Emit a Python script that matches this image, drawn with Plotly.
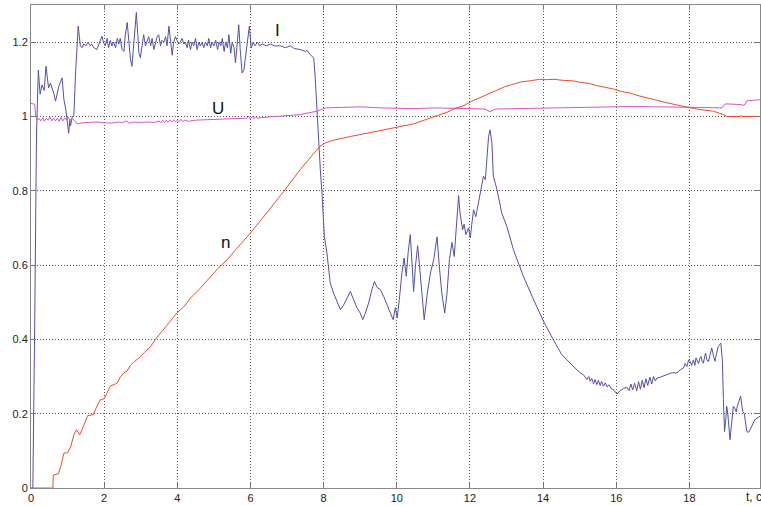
import plotly.graph_objects as go

# ---- I (current), blue ----
I_t = [0, 0.05, 0.10, 0.15, 0.20, 0.25, 0.30, 0.36, 0.41, 0.45, 0.48, 0.53, 0.58, 0.63, 0.67, 0.72, 0.76,
       0.85, 0.90, 0.95, 0.99, 1.03, 1.06, 1.08, 1.13, 1.17, 1.22, 1.29, 1.35, 1.40, 1.44, 1.50, 1.56, 1.62,
       1.66, 1.72, 1.80, 1.86, 1.94, 1.98, 2.03, 2.08, 2.12, 2.17, 2.21, 2.26, 2.31, 2.36, 2.40, 2.44, 2.49,
       2.54, 2.58, 2.63, 2.68, 2.72, 2.76, 2.81, 2.85, 2.88, 2.92, 2.95, 2.99, 3.04, 3.08, 3.13, 3.17, 3.22,
       3.27, 3.31, 3.36, 3.40, 3.45, 3.49, 3.54, 3.58, 3.63, 3.68, 3.72, 3.77, 3.81, 3.86, 3.90, 3.95, 3.99,
       4.04, 4.08, 4.13, 4.18, 4.22, 4.27, 4.31, 4.36, 4.40, 4.45, 4.50, 4.54, 4.59, 4.63, 4.68, 4.72, 4.77,
       4.82, 4.86, 4.91, 4.95, 5.00, 5.05, 5.10, 5.14, 5.19, 5.23, 5.28, 5.32, 5.37, 5.41, 5.46, 5.50, 5.55,
       5.59, 5.64, 5.68, 5.72, 5.77, 5.82, 5.86, 5.92, 5.97, 6.02, 6.07, 6.12, 6.19, 6.25, 6.32, 6.43, 6.55,
       6.65, 6.75, 6.82, 6.95, 7.09, 7.20, 7.36, 7.50, 7.55, 7.62, 7.68, 7.73, 7.77, 7.82, 7.86, 7.91, 7.96,
       7.98, 8.02, 8.09, 8.18, 8.27, 8.37, 8.46, 8.55, 8.64, 8.73, 8.82, 8.91, 9.00, 9.07, 9.14, 9.23, 9.32,
       9.39, 9.46, 9.55, 9.64, 9.73, 9.82, 9.90, 9.96, 10.01, 10.07, 10.14, 10.20, 10.26, 10.31, 10.37, 10.42,
       10.46, 10.51, 10.57, 10.62, 10.69, 10.75, 10.83, 10.92, 11.01, 11.10, 11.16, 11.23, 11.31, 11.37,
       11.44, 11.51, 11.57, 11.63, 11.69, 11.73, 11.80, 11.84, 11.89, 11.96, 12.01, 12.05, 12.10, 12.16,
       12.23, 12.30, 12.37, 12.42, 12.46, 12.51, 12.55, 12.60, 12.64, 12.74, 12.87, 13.01, 13.19, 13.46,
       13.74, 14.01, 14.28, 14.51, 14.74, 15.01, 15.10, 15.20, 15.25, 15.29, 15.33, 15.38, 15.42, 15.47,
       15.51, 15.56, 15.60, 15.65, 15.70, 15.75, 15.80, 15.86, 15.92, 16.02, 16.11, 16.20, 16.29, 16.35,
       16.40, 16.45, 16.50, 16.56, 16.61, 16.66, 16.71, 16.76, 16.81, 16.86, 16.92, 16.97, 17.02, 17.07,
       17.11, 17.20, 17.38, 17.52, 17.66, 17.75, 17.84, 17.88, 17.93, 17.98, 18.02, 18.06, 18.11, 18.15,
       18.18, 18.22, 18.25, 18.29, 18.32, 18.35, 18.38, 18.44, 18.48, 18.52, 18.57, 18.61, 18.66, 18.70,
       18.75, 18.79, 18.86, 18.90, 18.93, 18.96, 19.00, 19.02, 19.05, 19.07, 19.09, 19.11, 19.16, 19.20,
       19.24, 19.28, 19.31, 19.34, 19.37, 19.40, 19.43, 19.46, 19.50, 19.57, 19.62, 19.66, 19.79, 19.93]
I_v = [0, 0, 0.43, 0.95, 1.125, 1.06, 1.085, 1.07, 1.135, 1.10, 1.077, 1.09, 1.075, 1.06, 1.041, 1.06, 1.081,
       1.104, 1.045, 1.02, 0.991, 0.955, 0.99, 0.975, 1.0, 1.0, 1.12, 1.243, 1.19, 1.185, 1.195, 1.19, 1.2, 1.19,
       1.195, 1.185, 1.18, 1.195, 1.216, 1.2, 1.19, 1.21, 1.185, 1.205, 1.19, 1.2, 1.185, 1.21, 1.195, 1.21, 1.18,
       1.175, 1.22, 1.253, 1.2, 1.153, 1.135, 1.2, 1.25, 1.28, 1.22, 1.17, 1.158, 1.2, 1.22, 1.19, 1.2, 1.215,
       1.19, 1.21, 1.18, 1.2, 1.215, 1.22, 1.19, 1.205, 1.2, 1.215, 1.19, 1.243, 1.2, 1.165, 1.2, 1.215, 1.205,
       1.195, 1.2, 1.21, 1.195, 1.2, 1.185, 1.205, 1.18, 1.2, 1.19, 1.21, 1.18, 1.2, 1.19, 1.2, 1.185, 1.2,
       1.19, 1.21, 1.185, 1.2, 1.19, 1.205, 1.18, 1.2, 1.19, 1.21, 1.175, 1.2, 1.185, 1.22, 1.17, 1.2, 1.185,
       1.144, 1.2, 1.247, 1.18, 1.117, 1.125, 1.16, 1.21, 1.243, 1.184, 1.2, 1.19, 1.2, 1.19, 1.195, 1.19, 1.195,
       1.19, 1.19, 1.19, 1.185, 1.19, 1.183, 1.18, 1.175, 1.178, 1.168, 1.162, 1.157, 1.104, 1.005, 0.951, 0.857, 0.785,
       0.731, 0.677, 0.633, 0.552, 0.525, 0.502, 0.48, 0.493, 0.51, 0.529, 0.507, 0.485, 0.471, 0.453, 0.47, 0.498, 0.534,
       0.556, 0.54, 0.534, 0.516, 0.493, 0.471, 0.453, 0.485, 0.458, 0.507, 0.579, 0.619, 0.57, 0.633, 0.682, 0.6,
       0.529, 0.597, 0.652, 0.6, 0.507, 0.453, 0.52, 0.579, 0.615, 0.676, 0.6, 0.525, 0.471, 0.52,
       0.615, 0.661, 0.623, 0.704, 0.787, 0.74, 0.695, 0.71, 0.682, 0.7, 0.673, 0.71, 0.749, 0.73,
       0.767, 0.803, 0.839, 0.83, 0.884, 0.946, 0.964, 0.929, 0.839, 0.803, 0.74, 0.704, 0.641, 0.57,
       0.507, 0.449, 0.399, 0.359, 0.336, 0.31, 0.305, 0.292, 0.3, 0.287, 0.295, 0.28, 0.292, 0.278,
       0.29, 0.276, 0.287, 0.274, 0.283, 0.272, 0.278, 0.268, 0.265, 0.253, 0.262, 0.268, 0.271, 0.262,
       0.28, 0.264, 0.282, 0.262, 0.286, 0.266, 0.29, 0.27, 0.294, 0.276, 0.298, 0.28, 0.3, 0.288,
       0.296, 0.298, 0.305, 0.31, 0.31, 0.318, 0.323, 0.335, 0.327, 0.345, 0.34, 0.33, 0.345, 0.33,
       0.35, 0.34, 0.335, 0.35, 0.354, 0.34, 0.336, 0.363, 0.345, 0.34, 0.36, 0.377, 0.355, 0.341,
       0.365, 0.381, 0.39, 0.345, 0.238, 0.152, 0.19, 0.22, 0.2, 0.175, 0.15, 0.13, 0.18, 0.22,
       0.215, 0.205, 0.22, 0.229, 0.235, 0.247, 0.225, 0.206, 0.2, 0.152, 0.15, 0.157, 0.184, 0.193]

# ---- U (voltage), magenta ----
U_t = [0, 0.10, 0.13, 0.18, 0.22, 0.27, 0.32, 0.36, 0.42, 0.47, 0.52, 0.57, 0.62, 0.67, 0.72, 0.77, 0.82,
       0.87, 0.92, 0.97, 1.02, 1.07, 1.12, 1.18, 1.26, 1.4, 1.6, 1.8, 2.0, 2.2, 2.4, 2.5, 2.6, 2.7, 2.8, 3.0,
       3.2, 3.4, 3.5, 3.55, 3.6, 3.65, 3.7, 3.75, 3.8, 3.85, 3.9, 3.95, 4.0, 4.05, 4.1, 4.15, 4.2, 4.3, 4.5,
       4.63, 5.0, 5.5, 5.9, 5.95, 6.0, 6.05, 6.1, 6.15, 6.2, 6.3, 6.6, 6.9, 7.36, 7.6, 7.82, 8.05, 8.5, 9.0,
       9.55, 10.0, 10.46, 11.0, 11.5, 12.0, 12.4, 12.55, 12.7, 13.2, 13.6, 14.1, 15.0, 15.92, 16.5, 17.0,
       17.5, 18.0, 18.5, 18.89, 18.98, 19.39, 19.5, 19.57, 19.93]
U_v = [1.035, 1.033, 1.0, 0.99, 0.995, 0.988, 0.997, 0.987, 0.995, 0.99, 0.998, 0.988, 0.996, 0.988, 0.995,
       0.987, 0.997, 0.988, 0.996, 0.99, 0.998, 0.99, 0.995, 0.99, 0.98, 0.983, 0.984, 0.985, 0.983, 0.982,
       0.985, 0.983, 0.988, 0.982, 0.985, 0.984, 0.985, 0.984, 0.988, 0.983, 0.99, 0.984, 0.99, 0.984, 0.991,
       0.985, 0.991, 0.985, 0.99, 0.986, 0.992, 0.986, 0.99, 0.987, 0.99, 0.991, 0.992, 0.994, 0.995, 1.0,
       0.993, 1.0, 0.994, 0.999, 0.995, 0.997, 0.999, 1.0, 1.005, 1.01, 1.014, 1.023, 1.024, 1.026, 1.023,
       1.022, 1.021, 1.023, 1.021, 1.021, 1.02, 1.013, 1.02, 1.021, 1.022, 1.024, 1.026, 1.027, 1.027, 1.026,
       1.026, 1.025, 1.024, 1.023, 1.034, 1.032, 1.03, 1.042, 1.045]

# ---- n (speed), red ----
n_t = [0, 0.6, 0.61, 0.75, 0.82, 0.9, 1.0, 1.08, 1.18, 1.25, 1.33, 1.4, 1.55, 1.7, 1.8, 1.9, 2.0, 2.1, 2.17,
       2.3, 2.36, 2.45, 2.54, 2.63, 2.72, 2.81, 2.99, 3.1, 3.27, 3.4, 3.54, 3.72, 3.99, 4.2, 4.36, 4.63, 4.99,
       5.1, 5.36, 5.59, 6.0, 6.45, 6.91, 7.36, 7.73, 7.9, 8.05, 8.27, 8.73, 9.19, 9.55, 10.0, 10.46, 10.92,
       11.37, 11.6, 11.83, 12.05, 12.28, 12.5, 12.74, 12.95, 13.19, 13.4, 13.65, 13.9, 14.1, 14.3, 14.56,
       14.8, 15.01, 15.25, 15.47, 15.7, 15.92, 16.15, 16.38, 16.6, 16.84, 17.05, 17.29, 17.5, 17.75, 18.2,
       18.66, 18.93, 19.02, 19.4, 19.42, 19.44, 19.93]
n_v = [0, 0, 0.035, 0.038, 0.06, 0.094, 0.095, 0.11, 0.145, 0.157, 0.143, 0.158, 0.195, 0.197, 0.22, 0.238,
       0.24, 0.26, 0.274, 0.28, 0.283, 0.3, 0.31, 0.315, 0.33, 0.339, 0.353, 0.365, 0.381, 0.4, 0.417, 0.44,
       0.471, 0.49, 0.511, 0.538, 0.577, 0.59, 0.614, 0.641, 0.686, 0.74, 0.798, 0.857, 0.902, 0.92, 0.929,
       0.936, 0.946, 0.955, 0.964, 0.972, 0.98, 0.996, 1.011, 1.022, 1.029, 1.041, 1.051, 1.062, 1.072, 1.08,
       1.087, 1.093, 1.096, 1.1, 1.099, 1.1, 1.097, 1.096, 1.092, 1.089, 1.083, 1.079, 1.074, 1.067, 1.063,
       1.056, 1.051, 1.045, 1.039, 1.034, 1.029, 1.02, 1.014, 1.005, 1.0, 1.0, 1.003, 1.0, 1.0]

x_ticks = [0, 2, 4, 6, 8, 10, 12, 14, 16, 18]
y_ticks = [0, 0.2, 0.4, 0.6, 0.8, 1.0, 1.2]
y_tick_text = ["0", "0.2", "0.4", "0.6", "0.8", "1", "1.2"]

fig = go.Figure()
fig.add_trace(go.Scatter(x=I_t, y=I_v, mode="lines", line=dict(color="#5050b4", width=1), name="I"))
fig.add_trace(go.Scatter(x=U_t, y=U_v, mode="lines", line=dict(color="#d455c8", width=1), name="U"))
fig.add_trace(go.Scatter(x=n_t, y=n_v, mode="lines", line=dict(color="#f04a28", width=1), name="n"))

lab_font = dict(family="Liberation Sans, Arial, sans-serif", size=17, color="#111")
fig.add_annotation(x=6.73, y=1.232, text="I", showarrow=False, font=lab_font, xref="x", yref="y")
fig.add_annotation(x=5.1, y=1.022, text="U", showarrow=False, font=lab_font, xref="x", yref="y")
fig.add_annotation(x=5.31, y=0.66, text="n", showarrow=False, font=lab_font, xref="x", yref="y")
fig.add_annotation(x=19.48, y=0, xanchor="left", yanchor="top", yshift=0, text="t, c", showarrow=False,
                   xref="x", yref="paper",
                   font=dict(family="Liberation Sans, Arial, sans-serif", size=12, color="#222"))

axis_common = dict(showgrid=True, gridcolor="#555555", griddash="1px,2px", gridwidth=1,
                   showline=True, linecolor="#888888", linewidth=1, mirror="ticks",
                   ticks="inside", ticklen=5, tickcolor="#777777", zeroline=False, automargin=False,
                   tickfont=dict(family="Liberation Sans, Arial, sans-serif", size=11, color="#222"))

fig.update_xaxes(range=[0, 19.93], tickvals=x_ticks, **axis_common)
fig.update_yaxes(range=[0, 1.3], tickvals=y_ticks, ticktext=y_tick_text, **axis_common)

fig.update_layout(width=761, height=506, margin=dict(l=31, r=1, t=5, b=18),
                  plot_bgcolor="white", paper_bgcolor="white", showlegend=False)

fig.write_html("out.html", config={"displayModeBar": False},
               post_script="document.body.style.margin='0';document.body.style.overflow='hidden';")
